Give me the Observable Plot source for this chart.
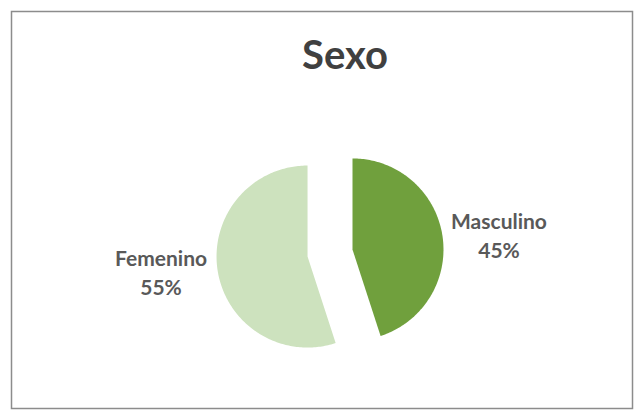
<!DOCTYPE html>
<html>
<head>
<meta charset="utf-8">
<script src="https://cdn.jsdelivr.net/npm/d3@7"></script>
<script src="https://cdn.jsdelivr.net/npm/@observablehq/plot@0.6"></script>
<style>
  body { margin: 0; background: #fff; }
  #chart svg { display: block; }
</style>
</head>
<body>
<div id="chart"></div>
<script>
const title = "Sexo";
const categories = ["Masculino", "Femenino"];
const values = [45, 55];
const colors = ["#70a03d", "#cde2be"];

const explode = 0.25;
const labelRadiusX = 1.88;
const labelRadiusY = 1.3;

const arcs = d3.pie().sort(null)(values);
const total = d3.sum(values);

const slicePts = [];
const labels = [];
arcs.forEach((a, i) => {
  const mid = (a.startAngle + a.endAngle) / 2;
  const cx = explode * Math.sin(mid), cy = explode * Math.cos(mid);
  slicePts.push({cat: categories[i], x: cx, y: cy});
  const steps = Math.max(2, Math.ceil((a.endAngle - a.startAngle) / (Math.PI / 180)));
  for (let k = 0; k <= steps; k++) {
    const t = a.startAngle + (a.endAngle - a.startAngle) * k / steps;
    slicePts.push({cat: categories[i], x: cx + Math.sin(t), y: cy + Math.cos(t)});
  }
  labels.push({
    cat: categories[i],
    text: categories[i] + "\n" + Math.round(values[i] / total * 100) + "%",
    x: labelRadiusX * Math.sin(mid),
    y: labelRadiusY * Math.cos(mid)
  });
});

const chart = Plot.plot({
  width: 637,
  height: 410,
  marginTop: 11,
  marginLeft: 11,
  marginRight: 5,
  marginBottom: 2,
  x: {domain: [-3.5, 3.324], axis: null},
  y: {domain: [-1.709, 2.654], axis: null},
  color: {domain: categories, range: colors},
  style: {background: "#fff"},
  marks: [
    Plot.frame({stroke: "#8c8c8c", strokeWidth: 1.5}),
    Plot.line(slicePts, {x: "x", y: "y", z: "cat", fill: "cat", stroke: "none", curve: "linear-closed"}),
    Plot.text(labels, {
      x: "x", y: "y", text: "text",
      fontFamily: "Lato", fontWeight: "bold", fontSize: 21,
      fill: "#595959", lineHeight: 1.35
    }),
    Plot.text([title], {
      frameAnchor: "top", dy: 29, dx: 23, text: d => d,
      fontFamily: "Lato", fontWeight: "bold", fontSize: 40, fill: "#404040"
    })
  ]
});
document.getElementById("chart").append(chart);
</script>
</body>
</html>
